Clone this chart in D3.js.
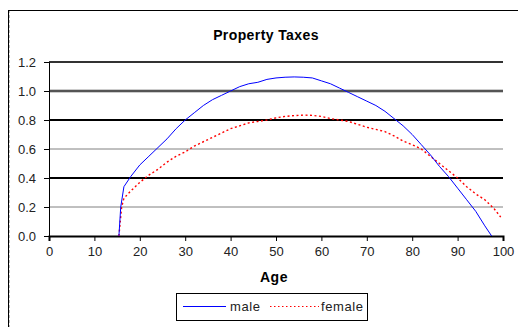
<!DOCTYPE html>
<html>
<head>
<meta charset="utf-8">
<script src="https://cdn.jsdelivr.net/npm/d3@7"></script>
<style>
  html, body { margin: 0; padding: 0; background: #fff; }
  svg { display: block; }
  text { font-family: "Liberation Sans", Arial, sans-serif; }
</style>
</head>
<body>
<svg id="chart" width="518" height="327"></svg>
<script>
// Property tax by age, male vs female
const maleAges = [15.4, 15.8, 16.5, 18, 20, 22, 24, 26, 28, 30, 32, 34, 36, 38, 40, 42, 44, 46, 48, 50,
  52, 54, 56, 58, 60, 62, 64, 66, 68, 70, 72, 74, 76, 78, 80, 82, 84, 86, 88, 90, 92, 94, 96, 97.5];
const maleValues = [0.00, 0.20, 0.34, 0.41, 0.49, 0.55, 0.61, 0.67, 0.74, 0.80, 0.85, 0.90, 0.94, 0.97, 1.00, 1.03, 1.05, 1.06, 1.08, 1.09,
  1.095, 1.097, 1.095, 1.09, 1.07, 1.05, 1.02, 0.99, 0.96, 0.93, 0.90, 0.86, 0.81, 0.76, 0.70, 0.63, 0.56, 0.48, 0.41, 0.33, 0.25, 0.17, 0.07, 0.00];

const femaleAges = [15.4, 16, 16.5, 18, 20, 22, 24, 26, 28, 30, 32, 34, 36, 38, 40, 42, 44, 46, 48, 50,
  52, 54, 56, 58, 60, 62, 64, 66, 68, 70, 72, 74, 76, 78, 80, 82, 84, 86, 88, 90, 92, 94, 96, 98, 99.5];
const femaleValues = [0.00, 0.20, 0.26, 0.31, 0.37, 0.42, 0.46, 0.51, 0.55, 0.58, 0.62, 0.65, 0.68, 0.71, 0.74, 0.76, 0.78, 0.79, 0.80, 0.815,
  0.825, 0.83, 0.834, 0.832, 0.825, 0.81, 0.80, 0.79, 0.77, 0.75, 0.735, 0.72, 0.69, 0.655, 0.63, 0.60, 0.55, 0.50, 0.45, 0.40, 0.34, 0.29, 0.25, 0.19, 0.13];

const xTicks = [0, 10, 20, 30, 40, 50, 60, 70, 80, 90, 100];
const yTicks = [0, 0.2, 0.4, 0.6, 0.8, 1.0, 1.2];
const seriesNames = ["male", "female"];

const svg = d3.select("#chart");

// chart frame
svg.append("line").attr("x1", 8.5).attr("x2", 8.5).attr("y1", 10).attr("y2", 327)
  .attr("stroke", "#000").attr("stroke-width", 1);
svg.append("line").attr("x1", 9.5).attr("x2", 9.5).attr("y1", 10).attr("y2", 327)
  .attr("stroke", "#bbb").attr("stroke-width", 1).attr("stroke-dasharray", "3,2");
svg.append("line").attr("x1", 8).attr("x2", 518).attr("y1", 10.5).attr("y2", 10.5)
  .attr("stroke", "#000").attr("stroke-width", 1);

const x = d3.scaleLinear().domain([0, 100]).range([49, 503]);
const y = d3.scaleLinear().domain([0, 1.2]).range([236, 62]);

// horizontal gridlines
const gridStyle = v => {
  const k = Math.round(v * 10);
  if (k === 8 || k === 4) return { c: "#000", w: 2.2 };
  if (k === 10) return { c: "#999", w: 3 };
  if (k === 12) return { c: "#555", w: 1.8 };
  return { c: "#808080", w: 1 };
};
svg.append("g").selectAll("line").data(yTicks.filter(v => v > 0)).join("line")
  .attr("x1", x(0)).attr("x2", x(100))
  .attr("y1", d => y(d)).attr("y2", d => y(d))
  .attr("stroke", d => gridStyle(d).c)
  .attr("stroke-width", d => gridStyle(d).w);
svg.append("g").selectAll("line").data(yTicks.filter(v => Math.round(v * 10) >= 10)).join("line")
  .attr("x1", x(0)).attr("x2", x(100))
  .attr("y1", d => y(d)).attr("y2", d => y(d))
  .attr("stroke", "#111").attr("stroke-width", 1);

// axes
const xAxis = d3.axisBottom(x).tickValues(xTicks).tickSize(5).tickPadding(6)
  .tickFormat(d3.format("d"));
const gx = svg.append("g").attr("transform", `translate(0,${y(0)})`).call(xAxis);
gx.select(".domain").attr("stroke", "#000").attr("stroke-width", 2);

const yAxis = d3.axisLeft(y).tickValues(yTicks).tickSize(5).tickPadding(8)
  .tickFormat(d3.format(".1f"));
const gy = svg.append("g").attr("transform", `translate(${x(0)},0)`).call(yAxis);
gy.select(".domain").attr("stroke", "#000").attr("stroke-width", 1);

[gx, gy].forEach(g => {
  g.selectAll(".tick line").attr("stroke", "#000");
  g.selectAll(".tick text").attr("font-size", 13).attr("fill", "#222")
    .style("font-family", "'Liberation Sans', Arial, sans-serif");
});

// series lines
const line = d3.line().x(d => x(d[0])).y(d => y(d[1]));
const maleData = maleAges.map((a, i) => [a, maleValues[i]]);
const femaleData = femaleAges.map((a, i) => [a, femaleValues[i]]);

svg.append("path").datum(femaleData).attr("d", line)
  .attr("fill", "none").attr("stroke", "#ff0000").attr("stroke-width", 1.4)
  .attr("stroke-dasharray", "2,2.5");
svg.append("path").datum(maleData).attr("d", line)
  .attr("fill", "none").attr("stroke", "#0000ff").attr("stroke-width", 1);

// titles
svg.append("text").attr("x", 266).attr("y", 40).attr("text-anchor", "middle")
  .attr("font-size", 14).attr("font-weight", "bold").attr("letter-spacing", 0.4)
  .text("Property Taxes");
svg.append("text").attr("x", 274).attr("y", 282).attr("text-anchor", "middle")
  .attr("font-size", 14).attr("font-weight", "bold").attr("letter-spacing", 0.6)
  .text("Age");

// legend
const lg = svg.append("g");
lg.append("rect").attr("x", 176.5).attr("y", 293.5).attr("width", 191).attr("height", 27)
  .attr("fill", "#fff").attr("stroke", "#000").attr("stroke-width", 1);
lg.append("line").attr("x1", 183).attr("x2", 226).attr("y1", 306.5).attr("y2", 306.5)
  .attr("stroke", "#0000ff").attr("stroke-width", 1);
lg.append("text").attr("x", 230).attr("y", 311).attr("font-size", 13).attr("letter-spacing", 0.6)
  .attr("fill", "#222").text(seriesNames[0]);
lg.append("line").attr("x1", 270).attr("x2", 319).attr("y1", 306.5).attr("y2", 306.5)
  .attr("stroke", "#ff0000").attr("stroke-width", 1).attr("stroke-dasharray", "1.5,2.5");
lg.append("text").attr("x", 321).attr("y", 311).attr("font-size", 13).attr("letter-spacing", 0.6)
  .attr("fill", "#222").text(seriesNames[1]);
</script>
</body>
</html>
